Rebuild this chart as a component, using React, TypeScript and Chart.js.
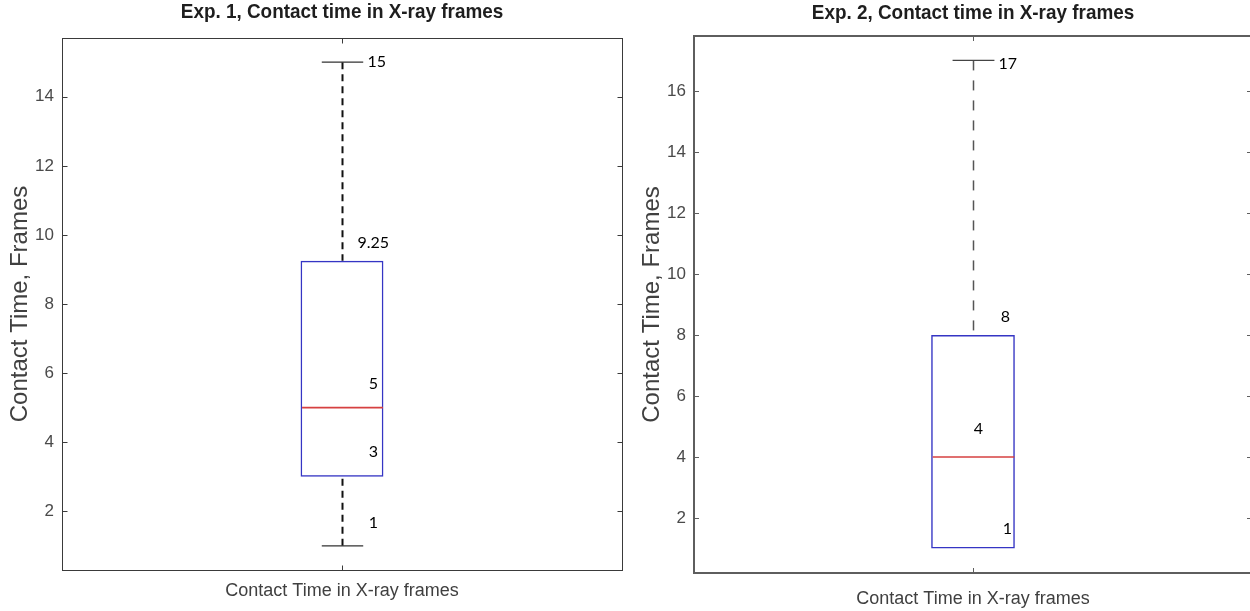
import React, { useEffect, useRef } from 'react';
import { Chart, registerables } from 'chart.js';

Chart.register(...registerables);

// ---------- data ----------
const categories = ['Contact Time in X-ray frames'];
// order: [min, q1, median, q3, max]
const exp1Stats = [1, 3, 5, 9.25, 15];
const exp2Stats = [1, 1, 4, 8, 17];
const exp1StatLabels = ['1', '3', '5', '9.25', '15'];
const exp2StatLabels = ['', '1', '4', '8', '17'];
const exp1YTicks = [2, 4, 6, 8, 10, 12, 14];
const exp2YTicks = [2, 4, 6, 8, 10, 12, 14, 16];
const exp1YRange = [0.3, 15.7];
const exp2YRange = [0.2, 17.8];
const exp1Title = 'Exp. 1, Contact time in X-ray frames';
const exp2Title = 'Exp. 2, Contact time in X-ray frames';
const yAxisTitle = 'Contact Time, Frames';

// ---------- styles ----------
const FONT_AX = '"Liberation Sans", Arial, sans-serif';
const FONT_NOTE = 'Lato, "Open Sans", sans-serif';

type NoteStyle = { dx: number; dy: number; align: CanvasTextAlign };
type PanelStyle = {
  canvasLeft: number;
  canvasWidth: number;
  padTop: number;
  padRight: number;
  yAxisWidth: number;
  xAxisHeight: number;
  xLabelPad: number;
  yTitlePad: number;
  frameColor: string;
  frameWidth: number;
  whiskerColor: string;
  whiskerWidth: number;
  whiskerDash: number[];
  capColor: string;
  boxPct: number;
  titleY: number;
  notes: NoteStyle[];
};

const panel1Style: PanelStyle = {
  canvasLeft: 0,
  canvasWidth: 625,
  padTop: 38,
  padRight: 3,
  yAxisWidth: 62,
  xAxisHeight: 41,
  xLabelPad: 10,
  yTitlePad: 6,
  frameColor: '#3a3a3a',
  frameWidth: 1,
  whiskerColor: '#111111',
  whiskerWidth: 2,
  whiskerDash: [7, 5],
  capColor: '#333333',
  boxPct: 0.148,
  titleY: 12,
  notes: [
    { dx: 31, dy: -23, align: 'center' },
    { dx: 31, dy: -25, align: 'center' },
    { dx: 31, dy: -24, align: 'center' },
    { dx: 15, dy: -18, align: 'left' },
    { dx: 25, dy: 0, align: 'left' },
  ],
};

const panel2Style: PanelStyle = {
  canvasLeft: 625,
  canvasWidth: 640,
  padTop: 36,
  padRight: 13,
  yAxisWidth: 69,
  xAxisHeight: 38,
  xLabelPad: 15,
  yTitlePad: 13,
  frameColor: '#5e5e5e',
  frameWidth: 2,
  whiskerColor: '#555555',
  whiskerWidth: 1.5,
  whiskerDash: [10, 10],
  capColor: '#444444',
  boxPct: 0.15,
  titleY: 13,
  notes: [
    { dx: 0, dy: 0, align: 'center' },
    { dx: 34, dy: -20, align: 'center' },
    { dx: 5, dy: -28, align: 'center' },
    { dx: 32, dy: -18, align: 'center' },
    { dx: 25, dy: 3, align: 'left' },
  ],
};

function makeDecor(title: string, stats: number[], labels: string[], s: PanelStyle) {
  return {
    id: 'boxDecor',
    afterDatasetsDraw(chart: any) {
      const { ctx, chartArea: a, scales } = chart;
      const y = scales.y;
      const x = scales.x;
      const bar = chart.getDatasetMeta(0).data[0] as any;
      const cx = Math.round(bar.x) + 0.5;
      const half = bar.width / 2;
      const [mn, q1, med, q3, mx] = stats;
      ctx.save();

      // median
      ctx.strokeStyle = '#d64040';
      ctx.lineWidth = 1.6;
      ctx.beginPath();
      ctx.moveTo(cx - half + 1, y.getPixelForValue(med));
      ctx.lineTo(cx + half - 1, y.getPixelForValue(med));
      ctx.stroke();

      // whiskers
      ctx.strokeStyle = s.whiskerColor;
      ctx.lineWidth = s.whiskerWidth;
      ctx.setLineDash(s.whiskerDash);
      ctx.beginPath();
      ctx.moveTo(cx, y.getPixelForValue(mx));
      ctx.lineTo(cx, y.getPixelForValue(q3));
      if (mn < q1) {
        ctx.moveTo(cx, y.getPixelForValue(mn));
        ctx.lineTo(cx, y.getPixelForValue(q1));
      }
      ctx.stroke();
      ctx.setLineDash([]);

      // caps
      ctx.strokeStyle = s.capColor;
      ctx.lineWidth = 1.3;
      ctx.beginPath();
      const capHalf = half / 2;
      ctx.moveTo(cx - capHalf, y.getPixelForValue(mx));
      ctx.lineTo(cx + capHalf, y.getPixelForValue(mx));
      if (mn < q1) {
        ctx.moveTo(cx - capHalf, y.getPixelForValue(mn));
        ctx.lineTo(cx + capHalf, y.getPixelForValue(mn));
      }
      ctx.stroke();

      // value notes
      ctx.fillStyle = '#000000';
      ctx.font = `16px ${FONT_NOTE}`;
      ctx.textBaseline = 'middle';
      stats.forEach((v, i) => {
        const t = labels[i];
        if (!t) return;
        const n = s.notes[i];
        ctx.textAlign = n.align;
        ctx.fillText(t, cx + n.dx, y.getPixelForValue(v) + n.dy);
      });

      // frame
      ctx.strokeStyle = s.frameColor;
      ctx.lineWidth = s.frameWidth;
      const off = s.frameWidth % 2 === 1 ? 0.5 : 0;
      const L = Math.round(a.left) + off;
      const R = Math.round(a.right) + off;
      const T = Math.round(a.top) + off;
      const B = Math.round(a.bottom) + off;
      ctx.strokeRect(L, T, R - L, B - T);

      // inside ticks
      ctx.lineWidth = 1;
      ctx.beginPath();
      y.ticks.forEach((t: any) => {
        const py = Math.round(y.getPixelForValue(t.value)) + 0.5;
        ctx.moveTo(L, py);
        ctx.lineTo(L + 5, py);
        ctx.moveTo(R, py);
        ctx.lineTo(R - 5, py);
      });
      const px = Math.round(x.getPixelForValue(0)) + 0.5;
      ctx.moveTo(px, B);
      ctx.lineTo(px, B - 5);
      ctx.moveTo(px, T);
      ctx.lineTo(px, T + 5);
      ctx.stroke();

      // title (slightly condensed like the source)
      ctx.fillStyle = '#1e1e1e';
      ctx.font = `bold 21px ${FONT_AX}`;
      ctx.textAlign = 'center';
      ctx.textBaseline = 'middle';
      ctx.translate((a.left + a.right) / 2, s.titleY);
      ctx.scale(0.9, 1);
      ctx.fillText(title, 0, 0);
      ctx.restore();
    },
  };
}

function makeChart(
  canvas: HTMLCanvasElement,
  title: string,
  stats: number[],
  labels: string[],
  yTicks: number[],
  yRange: number[],
  s: PanelStyle
) {
  return new Chart(canvas, {
    type: 'bar',
    data: {
      labels: categories,
      datasets: [
        {
          data: [[stats[1], stats[3]]] as any,
          backgroundColor: 'rgba(0,0,0,0)',
          borderColor: '#3535c4',
          borderWidth: 1.5,
          borderSkipped: false,
          barPercentage: s.boxPct,
          categoryPercentage: 1,
        },
      ],
    },
    options: {
      animation: false,
      responsive: false,
      devicePixelRatio: 1,
      layout: { padding: { top: s.padTop, right: s.padRight, left: 0, bottom: 0 } },
      plugins: {
        legend: { display: false },
        tooltip: { enabled: false },
        title: { display: false },
      },
      scales: {
        x: {
          type: 'category',
          grid: { display: false, drawTicks: false },
          border: { display: false },
          ticks: {
            font: { family: FONT_AX, size: 18 },
            color: '#404040',
            padding: s.xLabelPad,
            maxRotation: 0,
          },
          afterFit: (sc: any) => {
            sc.height = s.xAxisHeight;
          },
        },
        y: {
          type: 'linear',
          min: yRange[0],
          max: yRange[1],
          grid: { display: false, drawTicks: false },
          border: { display: false },
          afterBuildTicks: (sc: any) => {
            sc.ticks = yTicks.map((v) => ({ value: v }));
          },
          ticks: {
            font: { family: FONT_AX, size: 17 },
            color: '#4a4a4a',
            padding: 8,
          },
          title: {
            display: true,
            text: yAxisTitle,
            font: { family: FONT_AX, size: 24 },
            color: '#404040',
            padding: { top: s.yTitlePad, bottom: 0 },
          },
          afterFit: (sc: any) => {
            sc.width = s.yAxisWidth;
          },
        },
      },
    } as any,
    plugins: [makeDecor(title, stats, labels, s) as any],
  });
}

export default function App() {
  const ref1 = useRef<HTMLCanvasElement>(null);
  const ref2 = useRef<HTMLCanvasElement>(null);

  useEffect(() => {
    document.body.style.margin = '0';
    const c1 = makeChart(ref1.current!, exp1Title, exp1Stats, exp1StatLabels, exp1YTicks, exp1YRange, panel1Style);
    const c2 = makeChart(ref2.current!, exp2Title, exp2Stats, exp2StatLabels, exp2YTicks, exp2YRange, panel2Style);
    return () => {
      c1.destroy();
      c2.destroy();
    };
  }, []);

  return (
    <div
      style={{
        position: 'fixed',
        left: 0,
        top: 0,
        width: 1250,
        height: 611,
        overflow: 'hidden',
        background: '#ffffff',
      }}
    >
      <canvas
        ref={ref1}
        width={panel1Style.canvasWidth}
        height={611}
        style={{ position: 'absolute', left: panel1Style.canvasLeft, top: 0 }}
      />
      <canvas
        ref={ref2}
        width={panel2Style.canvasWidth}
        height={611}
        style={{ position: 'absolute', left: panel2Style.canvasLeft, top: 0 }}
      />
    </div>
  );
}
